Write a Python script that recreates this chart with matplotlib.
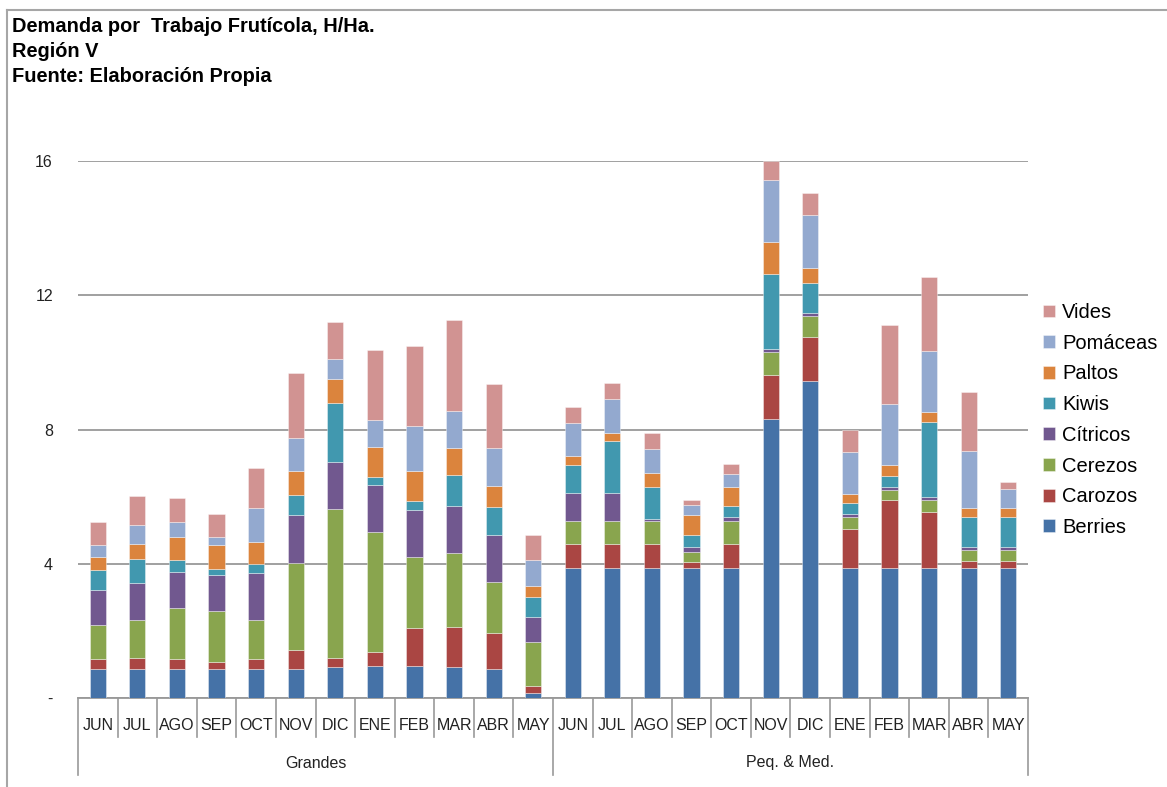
import numpy as np
import matplotlib.pyplot as plt
from matplotlib.lines import Line2D

# Months and groups
months = ['JUN', 'JUL', 'AGO', 'SEP', 'OCT', 'NOV', 'DIC', 'ENE', 'FEB', 'MAR', 'ABR', 'MAY']
groups = ['Grandes', 'Peq. & Med.']
series = ['Berries', 'Carozos', 'Cerezos', 'Cítricos', 'Kiwis', 'Paltos', 'Pomáceas', 'Vides']
colors = ['#4572A7', '#AA4643', '#89A54E', '#71588F', '#4198AF', '#DB843D', '#93A9CF', '#D19392']

# H/Ha per month: first 12 = Grandes, last 12 = Peq. & Med.
berries = [0.87, 0.87, 0.87, 0.87, 0.87, 0.87, 0.91, 0.96, 0.96, 0.91, 0.87, 0.14,
           3.87, 3.87, 3.87, 3.87, 3.87, 8.31, 9.44, 3.87, 3.87, 3.87, 3.87, 3.87]
carozos = [0.28, 0.31, 0.28, 0.19, 0.28, 0.55, 0.27, 0.40, 1.12, 1.22, 1.08, 0.23,
           0.72, 0.72, 0.72, 0.17, 0.72, 1.32, 1.31, 1.17, 2.02, 1.66, 0.22, 0.22]
cerezos = [1.03, 1.13, 1.52, 1.52, 1.17, 2.59, 4.45, 3.60, 2.11, 2.20, 1.52, 1.30,
           0.67, 0.67, 0.67, 0.32, 0.67, 0.67, 0.63, 0.36, 0.31, 0.36, 0.31, 0.31]
citricos = [1.03, 1.12, 1.08, 1.09, 1.40, 1.45, 1.40, 1.39, 1.41, 1.40, 1.40, 0.73,
            0.86, 0.86, 0.08, 0.14, 0.14, 0.09, 0.09, 0.09, 0.10, 0.09, 0.10, 0.10]
kiwis = [0.59, 0.72, 0.37, 0.18, 0.27, 0.59, 1.75, 0.23, 0.26, 0.90, 0.81, 0.62,
         0.81, 1.53, 0.95, 0.36, 0.31, 2.25, 0.90, 0.31, 0.31, 2.25, 0.90, 0.90]
paltos = [0.40, 0.45, 0.67, 0.71, 0.66, 0.72, 0.72, 0.90, 0.90, 0.81, 0.63, 0.32,
          0.27, 0.26, 0.41, 0.58, 0.59, 0.94, 0.45, 0.27, 0.32, 0.28, 0.27, 0.27]
pomaceas = [0.35, 0.54, 0.45, 0.23, 1.00, 0.99, 0.59, 0.81, 1.35, 1.12, 1.13, 0.77,
            1.00, 1.00, 0.73, 0.32, 0.36, 1.86, 1.58, 1.26, 1.84, 1.84, 1.70, 0.57]
vides = [0.69, 0.89, 0.71, 0.68, 1.21, 1.92, 1.12, 2.07, 2.38, 2.69, 1.92, 0.76,
         0.47, 0.49, 0.48, 0.13, 0.31, 0.56, 0.66, 0.66, 2.34, 2.19, 1.76, 0.19]

yticks = [0, 4, 8, 12, 16]
ytick_labels = ['-', '4', '8', '12', '16']

data = [berries, carozos, cerezos, citricos, kiwis, paltos, pomaceas, vides]
n = len(berries)
x = np.arange(n)

fig = plt.figure(figsize=(11.67, 7.87), dpi=100)
ax = fig.add_axes([78 / 1167, 1 - 698 / 787, (1028 - 78) / 1167, (698 - 161) / 787])

# Stacked bars
bottom = np.zeros(n)
handles = []
for vals, name, col in zip(data, series, colors):
    b = ax.bar(x, vals, width=0.41, bottom=bottom, color=col, label=name,
               edgecolor=(1, 1, 1, 0.45), linewidth=0.6, zorder=3)
    handles.append(b)
    bottom += np.array(vals)

ax.set_xlim(-0.5, n - 0.5)
ax.set_ylim(0, 16)
ax.set_yticks(yticks)
ax.set_yticklabels(ytick_labels, fontsize=11.5, family='Liberation Sans', color='#222222')
ax.tick_params(axis='y', length=0, pad=18)
ax.set_xticks([])
ax.yaxis.grid(True, color='#999999', linewidth=1.3, zorder=0)
for s in ['top', 'right', 'left']:
    ax.spines[s].set_visible(False)
ax.spines['bottom'].set_color('#999999')
ax.spines['bottom'].set_linewidth(1.3)

# Two-level category axis
trans = ax.get_xaxis_transform()
axh = 698 - 161
month_drop = -(737 - 698) / axh
group_drop = -(775 - 698) / axh
for i in range(n + 1):
    if i % 12 == 0:
        y0 = group_drop
    else:
        y0 = month_drop
    ax.add_line(Line2D([i - 0.5, i - 0.5], [0, y0], transform=trans,
                       color='#999999', linewidth=1.2, clip_on=False))
for i in range(n):
    ax.text(i, -(725 - 698) / axh, months[i % 12], transform=trans, ha='center', va='center',
            fontsize=11.5, family=['Liberation Sans Narrow', 'Liberation Sans'], color='#222222')
for g, name in enumerate(groups):
    ax.text(g * 12 + 5.5, -(763 - 698) / axh, name, transform=trans, ha='center', va='center',
            fontsize=11.5, family=['Liberation Sans Narrow', 'Liberation Sans'], color='#222222')

# Legend (reversed order like Excel)
leg = fig.legend(handles[::-1], series[::-1], loc='upper left',
                 bbox_to_anchor=(1025 / 1167, 1 - 285 / 787), frameon=False,
                 prop={'family': 'Liberation Sans', 'size': 14.5},
                 handlelength=0.6, handleheight=0.6, handletextpad=0.35, labelspacing=0.58)

# Title
title_lines = ['Demanda por  Trabajo Frutícola, H/Ha.', 'Región V', 'Fuente: Elaboración Propia']
for k, line in enumerate(title_lines):
    fig.text(12 / 1167, 1 - (27 + 24.5 * k) / 787, line, ha='left', va='center',
             fontsize=14.4, fontweight='bold', family='Liberation Sans', color='black')

# Chart area border (left and top visible)
fig.add_artist(Line2D([7 / 1167, 7 / 1167], [0, 1 - 10 / 787], color='#a6a6a6', linewidth=1.5))
fig.add_artist(Line2D([7 / 1167, 1], [1 - 10 / 787, 1 - 10 / 787], color='#a6a6a6', linewidth=1.5))

fig.savefig('out.png', dpi=100)
